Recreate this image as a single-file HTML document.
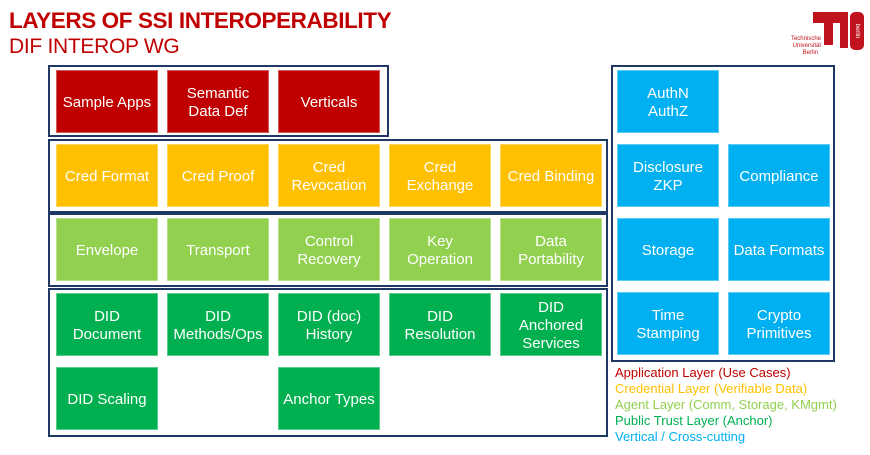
<!DOCTYPE html>
<html><head><meta charset="utf-8"><style>
body{margin:0;width:870px;height:455px;background:#fff;position:relative;overflow:hidden;font-family:"Liberation Sans",sans-serif}
.f{position:absolute;border:2px solid #1f3864;box-sizing:border-box}
.b{position:absolute;width:102px;height:63px;color:#fff;font-size:15px;line-height:18px;display:flex;align-items:center;justify-content:center;text-align:center;box-sizing:border-box;border:1px solid rgba(255,255,255,.35);padding-top:2px}
.r{background:#c00000}.y{background:#ffc000}.lg{background:#92d050}.g{background:#00b050}.bl{background:#00b0f0}
.t{position:absolute;white-space:nowrap}
.lgd{position:absolute;left:615px;font-size:13px;line-height:16px;white-space:nowrap}
</style></head><body>
<div class="t" style="left:9px;top:8px;font-size:22.5px;font-weight:bold;color:#c00000;letter-spacing:-0.4px">LAYERS OF SSI INTEROPERABILITY</div>
<div class="t" style="left:9px;top:35px;font-size:21px;color:#c00000;letter-spacing:-0.3px">DIF INTEROP WG</div>
<svg style="position:absolute;left:780px;top:10px" width="88" height="45">
<path d="M33 2 H68 V38 H60 V13 H53 V35 H44 V13 H33 Z" fill="#c0131e"/>
<rect x="70" y="2" width="14" height="38" rx="5" fill="#c0131e"/>
<text x="77" y="22" font-size="6" fill="#fff" text-anchor="middle" transform="rotate(90 77 21)" font-family="Liberation Sans">berlin</text>
<text x="41" y="30" font-size="6" fill="#c0131e" text-anchor="end" font-family="Liberation Sans">Technische</text>
<text x="41" y="37" font-size="6" fill="#c0131e" text-anchor="end" font-family="Liberation Sans">Universität</text>
<text x="38" y="44" font-size="6" fill="#c0131e" text-anchor="end" font-family="Liberation Sans">Berlin</text>
</svg>
<div class="f" style="left:48px;top:65px;width:341px;height:72px"></div>
<div class="f" style="left:48px;top:139px;width:560px;height:74px"></div>
<div class="f" style="left:48px;top:213px;width:560px;height:74px"></div>
<div class="f" style="left:48px;top:288px;width:560px;height:149px"></div>
<div class="f" style="left:611px;top:65px;width:224px;height:297px"></div>

<div class="b r" style="left:56px;top:70px">Sample Apps</div>
<div class="b r" style="left:167px;top:70px">Semantic<br>Data Def</div>
<div class="b r" style="left:278px;top:70px">Verticals</div>

<div class="b y" style="left:56px;top:144px">Cred Format</div>
<div class="b y" style="left:167px;top:144px">Cred Proof</div>
<div class="b y" style="left:278px;top:144px">Cred<br>Revocation</div>
<div class="b y" style="left:389px;top:144px">Cred<br>Exchange</div>
<div class="b y" style="left:500px;top:144px">Cred Binding</div>

<div class="b lg" style="left:56px;top:218px">Envelope</div>
<div class="b lg" style="left:167px;top:218px">Transport</div>
<div class="b lg" style="left:278px;top:218px">Control<br>Recovery</div>
<div class="b lg" style="left:389px;top:218px">Key<br>Operation</div>
<div class="b lg" style="left:500px;top:218px">Data<br>Portability</div>

<div class="b g" style="left:56px;top:293px">DID<br>Document</div>
<div class="b g" style="left:167px;top:293px">DID<br>Methods/Ops</div>
<div class="b g" style="left:278px;top:293px">DID (doc)<br>History</div>
<div class="b g" style="left:389px;top:293px">DID<br>Resolution</div>
<div class="b g" style="left:500px;top:293px">DID<br>Anchored<br>Services</div>
<div class="b g" style="left:56px;top:367px">DID Scaling</div>
<div class="b g" style="left:278px;top:367px">Anchor Types</div>

<div class="b bl" style="left:617px;top:70px">AuthN<br>AuthZ</div>
<div class="b bl" style="left:617px;top:144px">Disclosure<br>ZKP</div>
<div class="b bl" style="left:728px;top:144px">Compliance</div>
<div class="b bl" style="left:617px;top:218px">Storage</div>
<div class="b bl" style="left:728px;top:218px">Data Formats</div>
<div class="b bl" style="left:617px;top:292px">Time<br>Stamping</div>
<div class="b bl" style="left:728px;top:292px">Crypto<br>Primitives</div>

<div class="lgd" style="top:365px;color:#c00000">Application Layer (Use Cases)</div>
<div class="lgd" style="top:381px;color:#ffc000">Credential Layer (Verifiable Data)</div>
<div class="lgd" style="top:397px;color:#92d050">Agent Layer (Comm, Storage, KMgmt)</div>
<div class="lgd" style="top:413px;color:#00b050">Public Trust Layer (Anchor)</div>
<div class="lgd" style="top:429px;color:#00b0f0">Vertical / Cross-cutting</div>
</body></html>
